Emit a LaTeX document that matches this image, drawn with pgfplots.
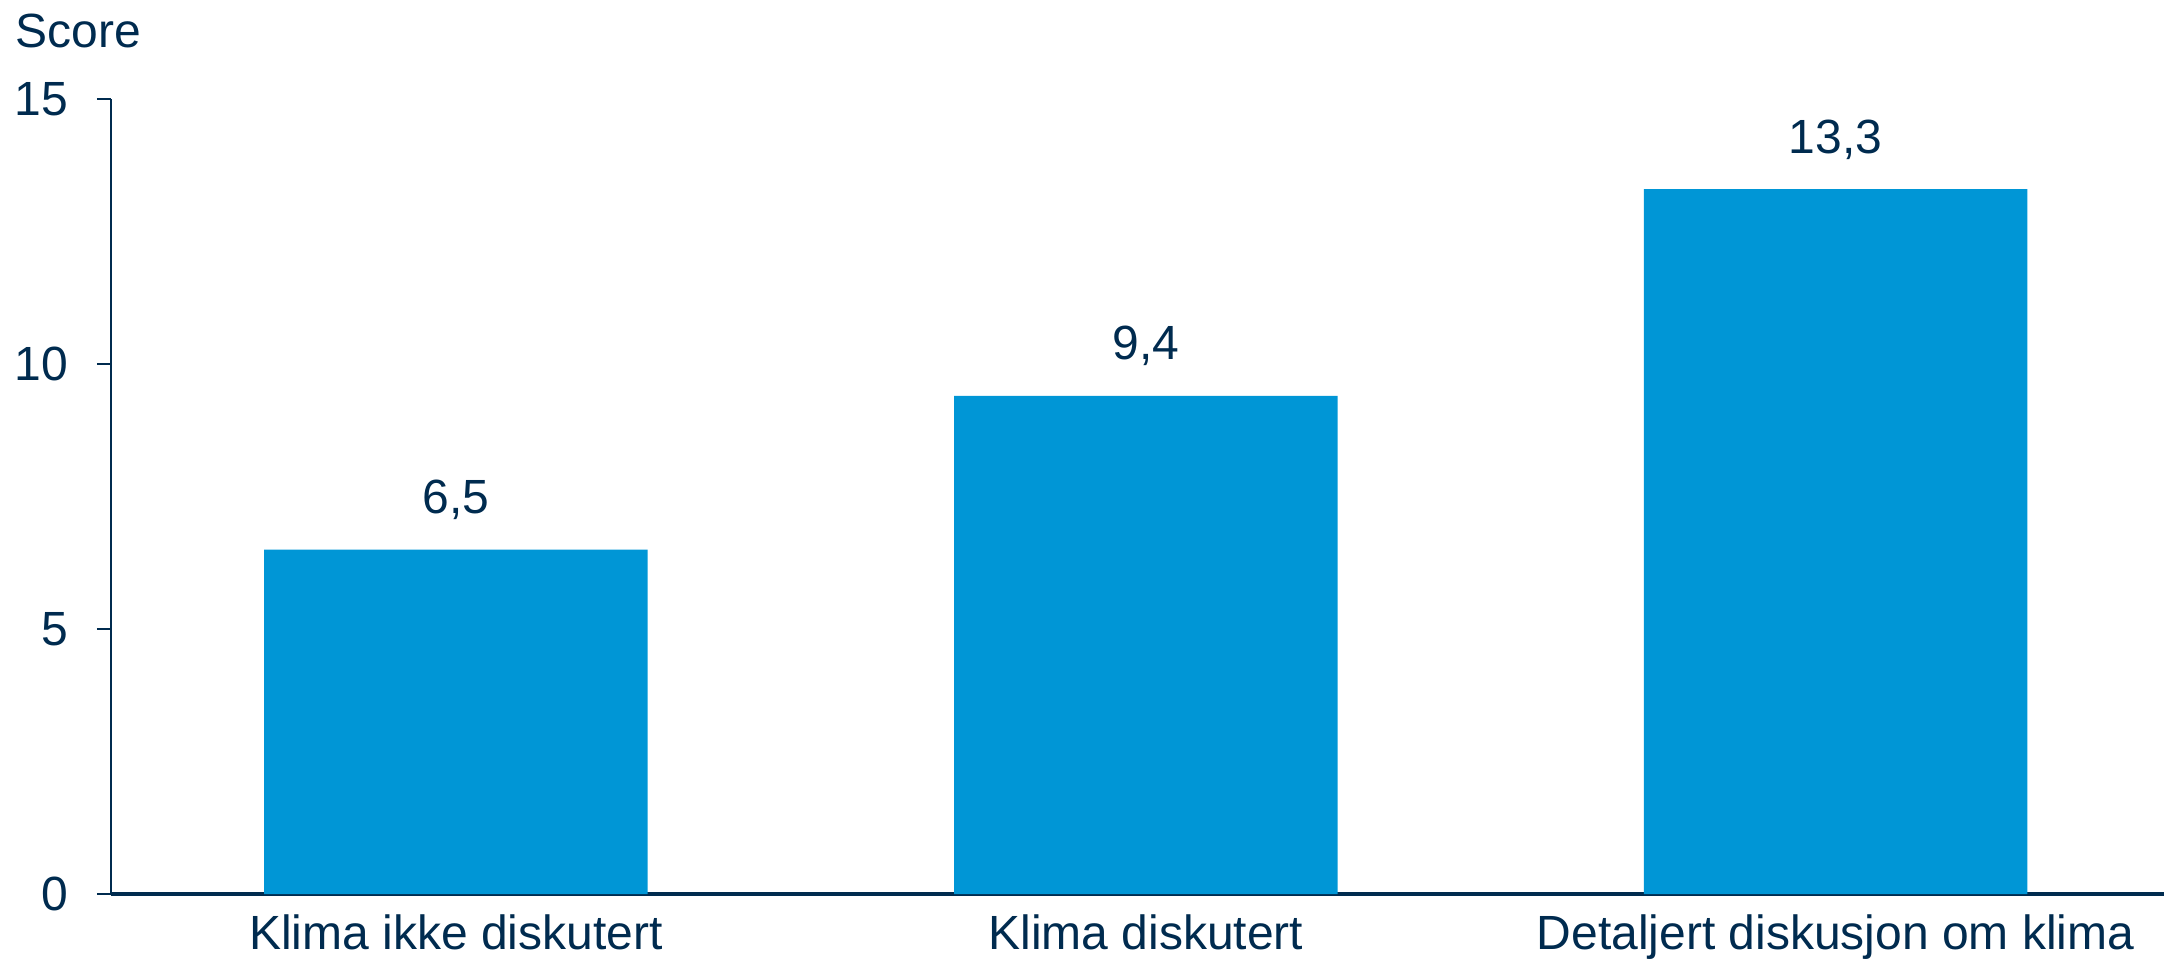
\documentclass[border=0pt]{standalone}
\usepackage{pgfplots}
\pgfplotsset{compat=1.18}
\usepackage{fontspec}
\setmainfont{Liberation Sans}
\definecolor{navy}{RGB}{0,43,79}
\definecolor{barblue}{RGB}{0,150,214}

\begin{document}
\fontsize{12}{14}\selectfont
\begin{tikzpicture}
\path[use as bounding box] (-27.75pt,-16pt) rectangle (513.25pt,223.5pt);
\clip (-27.75pt,-16pt) rectangle (513.25pt,223.5pt);
\begin{axis}[
  scale only axis,
  width=513.25pt, height=198.75pt,
  at={(0,0)}, anchor=south west,
  ybar, bar width=0.556,
  xmin=-0.5, xmax=2.476,
  ymin=0, ymax=15,
  ytick={0,5,10,15},
  xtick={0,1,2},
  xticklabels={Klima ikke diskutert, Klima diskutert, Detaljert diskusjon om klima},
  axis x line=bottom, axis y line=left,
  axis line style={navy, -, line width=0.6pt},
  x axis line style={line width=0.8pt},
  xtick style={draw=none},
  ytick style={navy, line width=0.6pt},
  tick align=outside, major tick length=3.5pt,
  ticklabel style={text=navy, font=\fontsize{12}{14}\selectfont},
  yticklabel style={inner sep=0pt, xshift=-7pt},
  xticklabel style={inner sep=0pt, yshift=-1.5pt},
  /pgf/number format/assume math mode=true,
  /pgf/number format/use comma,
  nodes near coords,
  nodes near coords style={text=navy, anchor=base, inner sep=0pt, yshift=9pt,
    font=\fontsize{12}{14}\selectfont,
    /pgf/number format/.cd, fixed, fixed zerofill, precision=1, use comma, assume math mode=true},
  clip=false,
]
\addplot[fill=barblue, draw=none] coordinates {(0,6.5) (1,9.4) (2,13.3)};
\end{axis}
\node[anchor=base west, inner sep=0pt, text=navy] at (-24pt,211.75pt) {Score};
\end{tikzpicture}
\end{document}
